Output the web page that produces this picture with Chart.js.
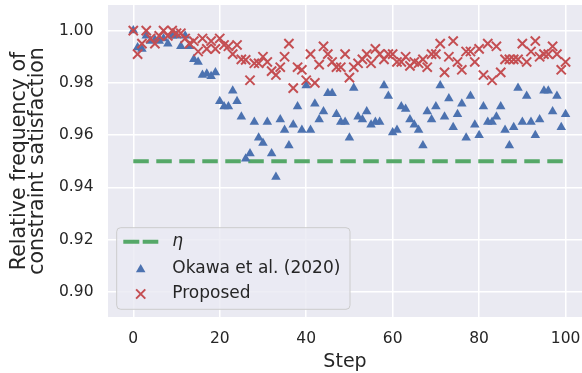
<!DOCTYPE html>
<html><head><meta charset="utf-8">
<script src="https://cdn.jsdelivr.net/npm/chart.js@4.4.0/dist/chart.umd.min.js"></script>
<style>html,body{margin:0;padding:0;background:#fff;}</style>
</head><body>
<canvas id="c" width="582" height="373" style="width:582px;height:373px;display:block"></canvas>
<script>
const steps = [0,1,2,3,4,5,6,7,8,9,10,11,12,13,14,15,16,17,18,19,20,21,22,23,24,25,26,27,28,29,30,31,32,33,34,35,36,37,38,39,40,41,42,43,44,45,46,47,48,49,50,51,52,53,54,55,56,57,58,59,60,61,62,63,64,65,66,67,68,69,70,71,72,73,74,75,76,77,78,79,80,81,82,83,84,85,86,87,88,89,90,91,92,93,94,95,96,97,98,99,100];
const okawa = [1.000,0.9935,0.993,0.998,0.996,0.9965,0.996,0.997,0.995,0.998,0.998,0.994,0.998,0.994,0.989,0.988,0.983,0.9835,0.9825,0.984,
  0.973,0.971,0.971,0.977,0.973,0.967,0.951,0.953,0.965,0.959,0.957,0.965,0.953,0.944,0.966,0.962,0.956,0.964,0.971,0.962,
  0.979,0.962,0.972,0.966,0.969,0.976,0.976,0.968,0.965,0.965,0.959,0.978,0.967,0.966,0.969,0.964,0.965,0.965,0.979,0.975,
  0.961,0.962,0.971,0.970,0.966,0.964,0.962,0.956,0.969,0.966,0.971,0.979,0.967,0.974,0.963,0.968,0.972,0.959,0.975,0.964,
  0.960,0.971,0.965,0.965,0.967,0.971,0.962,0.956,0.963,0.978,0.965,0.975,0.965,0.960,0.966,0.977,0.977,0.969,0.975,0.963,0.968];
const proposed = [1.000,0.991,0.995,1.000,0.997,0.995,0.998,1.000,0.998,1.000,0.999,0.999,0.997,0.995,0.996,0.992,0.997,0.993,0.996,0.993,
  0.997,0.9945,0.994,0.991,0.9945,0.989,0.9888,0.981,0.9875,0.9875,0.990,0.988,0.9845,0.983,0.986,0.990,0.995,0.978,0.986,0.985,
  0.981,0.991,0.980,0.987,0.994,0.991,0.988,0.986,0.986,0.991,0.982,0.986,0.9875,0.989,0.991,0.9875,0.993,0.991,0.989,0.991,
  0.991,0.988,0.988,0.990,0.9865,0.988,0.9875,0.989,0.986,0.991,0.991,0.995,0.984,0.990,0.996,0.988,0.985,0.992,0.992,0.988,
  0.993,0.983,0.995,0.981,0.994,0.984,0.989,0.989,0.989,0.989,0.995,0.988,0.992,0.996,0.990,0.991,0.991,0.994,0.991,0.985,0.988];
const eta = 0.95;
const etaSteps = [0, 100];
const xTicks = [0,20,40,60,80,100];
const yTicks = [0.90,0.92,0.94,0.96,0.98,1.00];
const xRange = [-5.85, 103.8];
const yRange = [0.8904, 1.0098];

const FONT = "'DejaVu Sans', sans-serif";
const TXT = '#262626';
const C_BLUE = '#4c72b0', C_RED = '#c44e52', C_GREEN = '#55a868';

const bgPlugin = {
  id: 'bg',
  beforeDraw(chart) {
    const {ctx, chartArea: a} = chart;
    ctx.save();
    ctx.fillStyle = '#eaeaf2';
    ctx.fillRect(a.left, a.top, a.right - a.left, a.bottom - a.top);
    ctx.restore();
  }
};

function drawTri(ctx, x, y, r) {
  ctx.beginPath();
  for (let i = 0; i < 3; i++) {
    const a = i * 2 * Math.PI / 3;
    const px = x + Math.sin(a) * r, py = y - Math.cos(a) * r;
    if (i === 0) ctx.moveTo(px, py); else ctx.lineTo(px, py);
  }
  ctx.closePath();
  ctx.fill();
}
function drawX(ctx, x, y, r) {
  const o = r * Math.SQRT1_2;
  ctx.beginPath();
  ctx.moveTo(x - o, y - o); ctx.lineTo(x + o, y + o);
  ctx.moveTo(x + o, y - o); ctx.lineTo(x - o, y + o);
  ctx.stroke();
}

const legendPlugin = {
  id: 'customLegend',
  afterDraw(chart) {
    const {ctx, chartArea: a} = chart;
    const bx = a.left + 8.7, by = a.bottom - 89.3, bw = 233.3, bh = 81.6, rr = 4;
    ctx.save();
    ctx.beginPath();
    ctx.moveTo(bx + rr, by);
    ctx.arcTo(bx + bw, by, bx + bw, by + bh, rr);
    ctx.arcTo(bx + bw, by + bh, bx, by + bh, rr);
    ctx.arcTo(bx, by + bh, bx, by, rr);
    ctx.arcTo(bx, by, bx + bw, by, rr);
    ctx.closePath();
    ctx.fillStyle = 'rgba(234,234,242,0.8)';
    ctx.fill();
    ctx.strokeStyle = '#cccccc';
    ctx.lineWidth = 1;
    ctx.stroke();

    const ys = [by + 14, by + 40.8, by + 66.3];
    const hx = bx + 24, tx = bx + 55.6;
    ctx.strokeStyle = C_GREEN; ctx.lineWidth = 4; ctx.lineCap = 'butt';
    ctx.setLineDash([16, 3.4]);
    ctx.beginPath(); ctx.moveTo(bx + 6.6, ys[0]); ctx.lineTo(bx + 41.6, ys[0]); ctx.stroke();
    ctx.setLineDash([]);
    ctx.fillStyle = C_BLUE; drawTri(ctx, hx, ys[1] + 1, 5.5);
    ctx.strokeStyle = C_RED; ctx.lineWidth = 2; drawX(ctx, hx, ys[2], 6.5);

    ctx.fillStyle = TXT; ctx.textBaseline = 'middle'; ctx.textAlign = 'left';
    ctx.font = 'italic 17px ' + FONT;
    ctx.fillText(chart.data.datasets[2].label, tx, ys[0]);
    ctx.font = '17px ' + FONT;
    ctx.fillText(chart.data.datasets[1].label, tx, ys[1]);
    ctx.fillText(chart.data.datasets[0].label, tx, ys[2]);
    ctx.restore();
  }
};

function zeroPad(s) { s.paddingTop = 0; s.paddingBottom = 0; s.paddingLeft = 0; s.paddingRight = 0; }

new Chart(document.getElementById('c'), {
  type: 'scatter',
  data: {
    datasets: [
      {
        label: 'Proposed',
        data: steps.map((s, i) => ({x: s, y: proposed[i]})),
        pointStyle: 'crossRot', pointRadius: 6.5, pointHoverRadius: 6.5,
        borderColor: C_RED, backgroundColor: C_RED, borderWidth: 2
      },
      {
        label: 'Okawa et al. (2020)',
        data: steps.map((s, i) => ({x: s, y: okawa[i]})),
        pointStyle: 'triangle', pointRadius: 5.5, pointHoverRadius: 5.5,
        borderColor: C_BLUE, backgroundColor: C_BLUE, borderWidth: 0
      },
      {
        type: 'line',
        label: 'η',
        data: etaSteps.map(s => ({x: s, y: eta})),
        borderColor: C_GREEN, borderWidth: 4, borderDash: [15.5, 7.5],
        borderCapStyle: 'butt', pointRadius: 0, fill: false, showLine: true
      }
    ]
  },
  options: {
    responsive: false,
    devicePixelRatio: 1,
    animation: false,
    layout: {autoPadding: false, padding: {top: 5, right: 0, bottom: 0, left: 0}},
    plugins: {legend: {display: false}, tooltip: {enabled: false}},
    scales: {
      x: {
        type: 'linear', min: xRange[0], max: xRange[1],
        afterBuildTicks: s => { s.ticks = xTicks.map(v => ({value: v})); },
        afterFit: s => { s.height = 56; zeroPad(s); },
        ticks: {autoSkip: false, maxRotation: 0, padding: 12.5, color: TXT, font: {family: FONT, size: 15.5}},
        grid: {color: '#ffffff', lineWidth: 1.5, drawTicks: false},
        border: {display: false},
        title: {display: true, text: 'Step', color: TXT, font: {family: FONT, size: 19, lineHeight: 1.2}, padding: {top: 0, bottom: 0}}
      },
      y: {
        type: 'linear', min: yRange[0], max: yRange[1],
        afterBuildTicks: s => { s.ticks = yTicks.map(v => ({value: v})); },
        afterFit: s => { s.width = 108; zeroPad(s); },
        ticks: {autoSkip: false, padding: 14.5, color: TXT, font: {family: FONT, size: 15.5}, callback: v => v.toFixed(2)},
        grid: {color: '#ffffff', lineWidth: 1.5, drawTicks: false},
        border: {display: false},
        title: {display: true, text: ['Relative frequency of', 'constraint satisfaction'], color: TXT, font: {family: FONT, size: 20.5, lineHeight: 0.9}, padding: {top: 10, bottom: 0}}
      }
    }
  },
  plugins: [bgPlugin, legendPlugin]
});
</script>
</body></html>
